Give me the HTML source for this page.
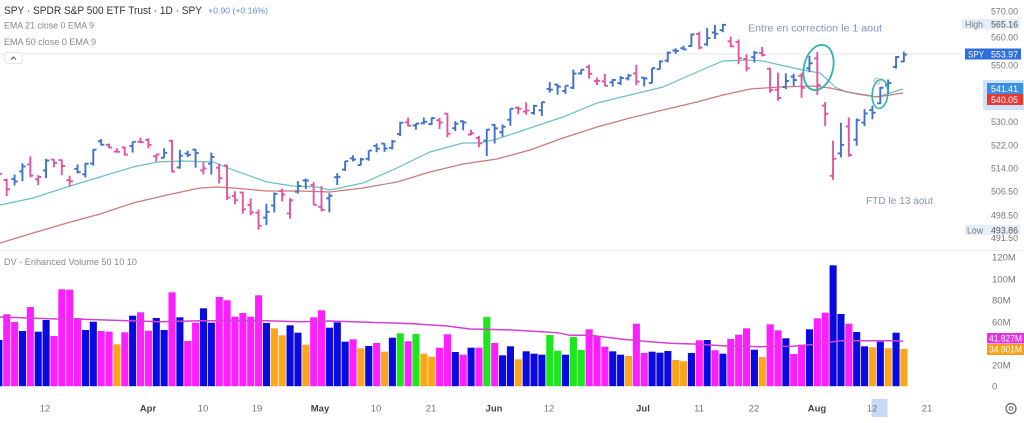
<!DOCTYPE html>
<html><head><meta charset="utf-8">
<style>
html,body{margin:0;padding:0;background:#fff;width:1024px;height:423px;overflow:hidden}
svg{display:block;font-family:"Liberation Sans",sans-serif}
</style></head><body>
<svg id="c" width="1024" height="423" viewBox="0 0 1024 423" xmlns="http://www.w3.org/2000/svg">
<rect width="1024" height="423" fill="#fff"/>
<line x1="0" y1="54" x2="962" y2="54" stroke="#dfe5ec" stroke-width="1"/>
<line x1="0" y1="250.5" x2="1024" y2="250.5" stroke="#eef0f3" stroke-width="1"/>

<polyline fill="none" stroke="#6cbfc6" stroke-width="1.2" points="0,205 33,198 67,187 100,177 133,167 157,162 183,161 213,162 233,170 267,182 293,186 317,187 330,190 363,183 397,168 430,152 463,143 480,143 497,139 530,128 563,117 597,103 630,95 663,87 697,72 723,61 747,60 763,61 780,65 803,70 820,73 830,82 835,87 847,92 867,95 877,97 890,93 903,89"/>
<polyline fill="none" stroke="#cc7a78" stroke-width="1.2" points="0,243 33,233 67,223 100,214 133,203 167,195 200,188 217,187 233,188 267,191 300,191 330,192 363,188 397,182 430,172 463,164 497,159 530,150 563,138 597,127 630,118 663,110 697,102 723,95 750,89 780,87 813,86 830,88 857,94 877,97 890,95 903,93"/>

<g id="bars"></g>
<g id="vol"></g>

<polyline fill="none" stroke="#d43fd4" stroke-width="1.5" points="0,317 57,319 83,319.3 160,321.7 200,320.7 267,320.7 300,321.7 330,321 413,323.7 447,326 470,329 513,330 557,332.7 570,335.3 590,335.3 623,339.3 650,341.7 670,343.3 693,344 727,346 760,346.7 793,346.3 810,344.7 827,342.7 840,340.7 893,340.7 903,341.3"/>

<!-- annotations -->
<ellipse cx="818.5" cy="67.5" rx="14.5" ry="23" transform="rotate(14 818.5 67.5)" fill="none" stroke="#2fb3ad" stroke-width="1.8"/>
<ellipse cx="880" cy="94" rx="7.8" ry="14.5" transform="rotate(5 880 94)" fill="none" stroke="#2fb3ad" stroke-width="1.6"/>
<circle cx="877" cy="81" r="3" fill="none" stroke="#b8b8c0" stroke-width="1"/>
<text x="748" y="31.5" font-size="10" fill="#7f95b8" textLength="134" lengthAdjust="spacingAndGlyphs">Entre en correction le 1 aout</text>
<text x="866" y="204" font-size="10" fill="#7f95b8" textLength="67" lengthAdjust="spacingAndGlyphs">FTD le 13 aout</text>

<!-- header -->
<text x="4" y="14" font-size="11" fill="#333" textLength="198" lengthAdjust="spacingAndGlyphs">SPY · SPDR S&amp;P 500 ETF Trust · 1D · SPY</text>
<text x="208" y="13.5" font-size="8.5" fill="#6a8cc4" textLength="60" lengthAdjust="spacingAndGlyphs">+0.90 (+0.16%)</text>
<text x="4" y="28.5" font-size="9" fill="#888" textLength="90" lengthAdjust="spacingAndGlyphs">EMA 21 close 0 EMA 9</text>
<text x="4" y="45" font-size="9" fill="#888" textLength="92" lengthAdjust="spacingAndGlyphs">EMA 50 close 0 EMA 9</text>
<rect x="5" y="52.5" width="17" height="11" rx="2" fill="#fff" stroke="#e2e4e8"/>
<path d="M11 59.5 L13.5 57 L16 59.5" fill="none" stroke="#555" stroke-width="1"/>
<text x="4" y="265" font-size="9.5" fill="#888" textLength="133" lengthAdjust="spacingAndGlyphs">DV - Enhanced Volume 50 10 10</text>

<!-- price axis -->
<g font-size="9.5" fill="#777">
<text x="991" y="14.5" textLength="27" lengthAdjust="spacingAndGlyphs">570.00</text>
<rect x="962" y="19" width="58" height="10" fill="#e6eef9"/>
<text x="965" y="27.5" textLength="18" lengthAdjust="spacingAndGlyphs">High</text>
<text x="991" y="27.5" fill="#555" textLength="27" lengthAdjust="spacingAndGlyphs">565.16</text>
<text x="991" y="40.5" textLength="27" lengthAdjust="spacingAndGlyphs">560.00</text>
<rect x="965" y="48.5" width="56" height="11" fill="#2f6fdc"/>
<text x="968" y="57.5" fill="#fff" textLength="16" lengthAdjust="spacingAndGlyphs">SPY</text>
<text x="991" y="57.5" fill="#fff" textLength="27" lengthAdjust="spacingAndGlyphs">553.97</text>
<text x="991" y="68.5" textLength="27" lengthAdjust="spacingAndGlyphs">550.00</text>
<rect x="983" y="80" width="41" height="30" fill="#cfe2f7"/>
<rect x="987" y="83" width="36" height="11" fill="#3d8fe6"/>
<text x="991" y="92" fill="#fff" textLength="27" lengthAdjust="spacingAndGlyphs">541.41</text>
<rect x="987" y="94" width="36" height="11" fill="#e53935"/>
<text x="991" y="103" fill="#fff" textLength="27" lengthAdjust="spacingAndGlyphs">540.05</text>
<text x="991" y="125" textLength="27" lengthAdjust="spacingAndGlyphs">530.00</text>
<text x="991" y="148.5" textLength="27" lengthAdjust="spacingAndGlyphs">522.00</text>
<text x="991" y="171.5" textLength="27" lengthAdjust="spacingAndGlyphs">514.00</text>
<text x="991" y="194.5" textLength="27" lengthAdjust="spacingAndGlyphs">506.50</text>
<text x="991" y="218.5" textLength="27" lengthAdjust="spacingAndGlyphs">498.50</text>
<text x="991" y="241" textLength="27" lengthAdjust="spacingAndGlyphs">491.50</text>
<rect x="965" y="225" width="55" height="10" fill="#e6eef9"/>
<text x="967" y="233.5" textLength="16" lengthAdjust="spacingAndGlyphs">Low</text>
<text x="991" y="233.5" fill="#555" textLength="27" lengthAdjust="spacingAndGlyphs">493.86</text>
<!-- volume axis -->
<text x="992" y="260.5">120M</text>
<text x="992" y="282.5">100M</text>
<text x="992" y="303.5">80M</text>
<text x="992" y="325.5">60M</text>
<rect x="987" y="333" width="37" height="10.5" fill="#e632e6"/>
<text x="989" y="341.5" fill="#fff" textLength="33" lengthAdjust="spacingAndGlyphs">41.827M</text>
<rect x="987" y="344" width="37" height="11" fill="#f5a21b"/>
<text x="989" y="352.5" fill="#fff" textLength="33" lengthAdjust="spacingAndGlyphs">34.801M</text>
<text x="992" y="368.5">20M</text>
<text x="992" y="389.5">0</text>
</g>

<!-- time axis -->
<rect x="871.5" y="399" width="16" height="18" fill="#c8dbf6"/>
<g font-size="9.5" fill="#777" text-anchor="middle">
<text x="45" y="411.5">12</text>
<text x="148" y="411.5" font-weight="bold" fill="#444">Apr</text>
<text x="203" y="411.5">10</text>
<text x="257" y="411.5">19</text>
<text x="320" y="411.5" font-weight="bold" fill="#444">May</text>
<text x="376" y="411.5">10</text>
<text x="431" y="411.5">21</text>
<text x="494" y="411.5" font-weight="bold" fill="#444">Jun</text>
<text x="549" y="411.5">12</text>
<text x="643" y="411.5" font-weight="bold" fill="#444">Jul</text>
<text x="699" y="411.5">11</text>
<text x="754" y="411.5">22</text>
<text x="817" y="411.5" font-weight="bold" fill="#444">Aug</text>
<text x="872" y="411.5">12</text>
<text x="927" y="411.5">21</text>
</g>
<circle cx="1011" cy="408.5" r="5" fill="none" stroke="#666" stroke-width="1.2"/>
<circle cx="1011" cy="408.5" r="1.8" fill="none" stroke="#666" stroke-width="1"/>
</svg>
<script>
(function(){
var D=[
[512.03,514.20,510.85,512.30],
[510.24,510.70,504.91,507.18],[510.55,512.07,508.42,509.75],[513.14,515.89,509.81,514.81],[515.46,518.22,511.13,511.72],
[510.48,511.88,508.50,511.28],[513.45,517.38,510.86,516.78],[517.11,517.29,514.49,515.97],[516.97,517.13,511.82,514.95],[510.21,511.70,508.13,509.83],
[514.00,515.48,512.44,512.86],[512.15,516.00,511.12,515.71],[515.77,520.62,515.08,520.48],[523.39,524.11,521.91,522.20],[522.11,522.61,520.97,521.21],
[519.80,520.95,519.61,519.77],[521.23,521.58,518.40,518.81],[521.71,523.21,519.49,523.17],[523.21,524.61,522.78,523.07],
[523.83,524.38,520.97,522.16],[518.24,518.98,516.48,518.84],[517.72,520.95,517.67,519.41],[523.52,523.87,512.76,513.07],[514.46,520.44,514.01,518.43],
[519.15,520.18,517.89,518.72],[520.50,520.75,514.35,519.32],[513.48,516.16,512.09,514.12],[515.68,519.48,512.08,518.00],[514.37,515.82,509.08,510.85],
[515.13,515.30,503.58,504.45],[504.94,506.50,502.21,503.53],[506.05,506.22,499.12,500.55],[501.98,504.13,498.56,499.52],[499.44,500.46,493.86,495.16],
[497.83,502.38,495.43,499.72],[501.78,506.09,499.53,505.65],[506.56,507.37,503.13,505.41],[499.18,504.27,497.49,503.49],[506.35,509.88,505.70,508.26],
[510.09,510.75,507.25,510.06],[508.56,509.56,501.98,501.98],
[501.38,508.19,499.87,500.35],[504.15,505.89,499.55,505.03],[511.16,512.55,508.56,511.29],
[513.75,516.61,513.30,516.57],[517.56,518.57,516.45,517.14],[515.26,517.74,515.14,517.19],[517.38,520.21,516.71,520.17],[521.81,522.64,519.59,520.84],
[522.56,522.67,519.74,520.91],[521.11,523.83,520.56,523.30],[525.83,530.08,525.18,529.78],[529.88,531.52,528.54,528.69],[528.81,529.52,527.32,529.45],
[529.57,531.56,529.17,530.06],[529.28,531.52,529.07,531.36],[530.65,531.38,527.60,529.83],[532.96,533.07,524.72,525.96],[527.85,530.27,526.88,529.44],
[530.27,530.51,527.11,529.81],[525.68,527.31,525.37,526.10],[524.52,525.20,521.33,522.61],[523.59,527.50,518.36,527.37],
[529.02,529.31,522.60,527.80],[526.46,529.15,524.96,528.39],[530.77,534.69,528.73,534.67],[534.98,535.42,532.68,534.66],[533.66,536.89,532.54,534.01],
[533.18,535.99,532.57,535.66],[534.07,537.01,532.05,536.95],[541.63,544.12,540.30,541.36],[543.15,543.33,539.59,542.45],[540.88,542.81,539.85,542.78],
[542.08,548.53,541.61,547.10],[547.16,548.62,546.73,548.49],[549.44,550.28,545.30,547.00],[544.40,545.65,543.02,544.51],
[544.33,546.95,542.62,542.74],[543.99,545.20,542.44,544.83],[543.69,546.24,543.03,545.51],[545.37,546.96,544.61,546.37],[547.16,550.28,542.95,544.22],
[545.63,545.88,542.52,545.34],[543.70,549.01,543.65,549.01],[548.69,551.83,548.65,551.46],[551.77,555.05,551.12,554.64],
[555.44,556.25,554.19,555.28],[556.26,557.18,555.52,555.82],[557.07,561.67,556.77,561.32],[561.44,562.33,555.83,556.48],[557.63,563.67,557.15,559.99],
[562.03,564.84,559.63,561.53],[562.87,565.16,562.10,564.86],[558.80,560.51,556.61,556.94],[558.51,559.52,550.43,552.66],[552.42,554.08,547.91,548.99],
[553.00,555.27,551.02,554.65],[554.54,556.74,553.28,553.78],[548.86,549.17,540.29,541.23],[541.35,547.46,537.45,538.41],[542.28,547.19,541.49,544.44],
[546.02,547.05,542.72,544.76],[546.26,547.34,538.52,542.00],[548.98,553.50,547.58,550.81],
[552.57,554.87,539.43,543.01],[535.75,536.99,528.60,532.90],
[511.64,523.58,510.27,517.38],[519.22,529.75,517.87,522.15],[528.47,531.59,518.05,518.66],[523.91,531.29,521.84,530.65],[529.81,534.51,528.56,532.99],
[534.21,535.73,530.95,533.27],[536.53,542.28,536.28,542.04],[542.85,544.96,540.12,543.75],[549.50,553.36,548.88,553.07],[551.42,555.02,551.26,553.97]
];
function py(p){return 11+1526*Math.log(570/p);}
var up='',dn='',prev=512.85;
for(var k=0;k<D.length;k++){
  var d=D[k],i=k-1,cx=6.7+i*7.87;
  var seg='M'+cx.toFixed(2)+' '+py(d[1]).toFixed(2)+'V'+py(d[2]).toFixed(2)+
    'M'+(cx-3.2).toFixed(2)+' '+py(d[0]).toFixed(2)+'H'+cx.toFixed(2)+
    'M'+cx.toFixed(2)+' '+py(d[3]).toFixed(2)+'H'+(cx+3.2).toFixed(2);
  if(d[3]>=prev) up+=seg; else dn+=seg;
  prev=d[3];
}
var g=document.getElementById('bars');
g.innerHTML='<path d="'+up+'" fill="none" stroke="#3f72c8" stroke-width="1.9"/>'+
            '<path d="'+dn+'" fill="none" stroke="#e0559f" stroke-width="1.9"/>';
var V="b340 m314.3 m322 b331 m307 b331.7 b320 m336 m289.3 m289.7 m318 b330 b321.7 m331 m331.7 o344.3 m332.3 b315.7 m312.3 m330.7 b318 b330 m292.3 b317.3 m341 m322.7 b308.3 b322.7 m297 m300.3 m316.7 m313 m316.7 m295.3 b323 o328.3 o335.3 b325.3 b332.7 o344.7 m317.3 m310.3 b327.7 b322.3 b341.7 m339.3 o348.3 b346 m343 o351.7 b337.7 g333.3 m341.3 g334 o353.7 o356.7 m347.7 m334.3 b352 m354.7 b347.7 m347.7 g317 m343 b355.3 b346.3 o359.3 b351.3 b353.7 b354.7 g335 g350.7 b354.7 g337 g350 m329.3 m336 m346.7 b351.3 b354.7 o356 m323.7 m353 b351.7 b352.7 b351 o360 o361.3 b353 m340.3 b340 m350.3 b353.7 m339 m334.7 m328.3 b349.7 o357 m324.3 m330.3 b338.3 m354 m344.7 b329.3 m318.3 m312.7 b265.3 b314 m323.7 b332 b346.3 o347.3 b341.7 o348.3 b332.7 o349".split(' ');
var C={b:'#0a0ae0',m:'#ff1eff',o:'#ffa51a',g:'#1ee61e'};
var s='',base=386.2;
for(var j=0;j<V.length;j++){
  var c=V[j].charAt(0),t=parseFloat(V[j].substr(1)),x=6.7+(j-1)*7.87-3.5;
  s+='<rect x="'+x.toFixed(2)+'" y="'+t+'" width="7.1" height="'+(base-t).toFixed(2)+'" fill="'+C[c]+'"/>';
}
document.getElementById('vol').innerHTML=s;
})();
</script>
</body></html>
